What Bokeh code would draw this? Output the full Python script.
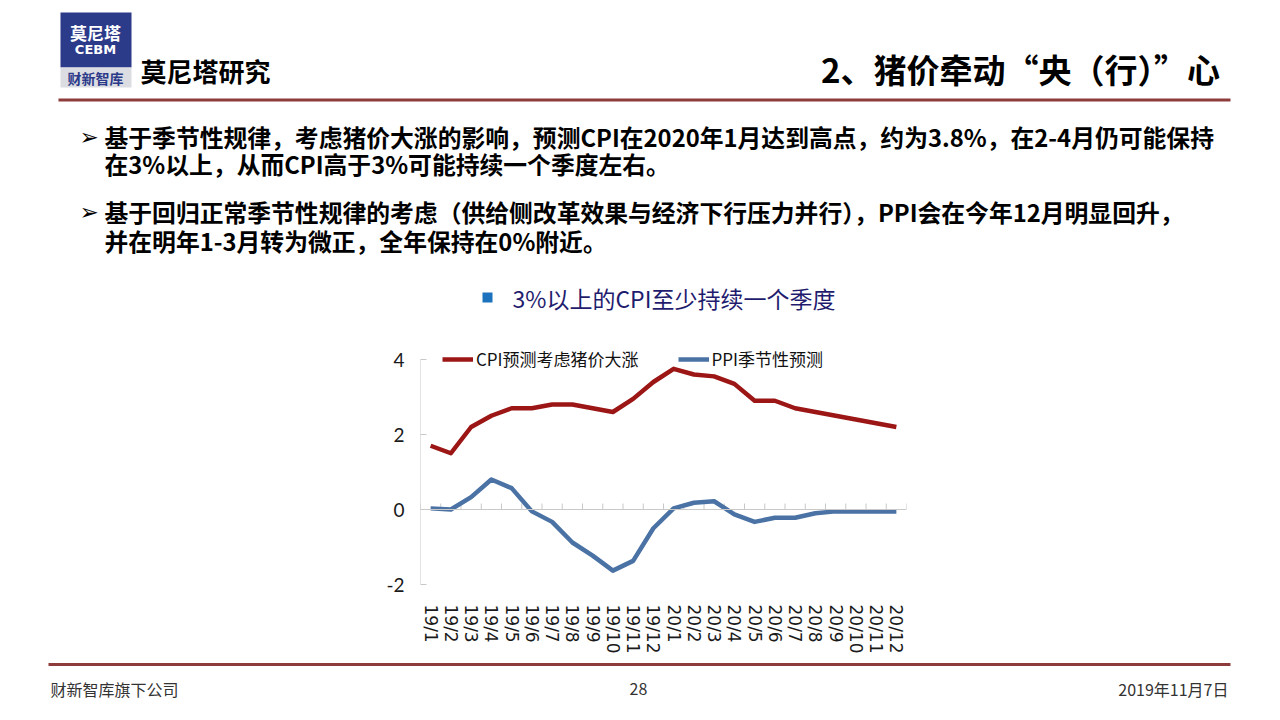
from bokeh.plotting import figure
from bokeh.models import Range1d, FixedTicker, Span, Legend, LegendItem, Spacer
from bokeh.layouts import column, row
from bokeh.core.properties import value
from bokeh.embed import file_html
from bokeh.resources import INLINE

# ---------------- data ----------------
months = ["19/1", "19/2", "19/3", "19/4", "19/5", "19/6", "19/7", "19/8", "19/9", "19/10", "19/11", "19/12",
          "20/1", "20/2", "20/3", "20/4", "20/5", "20/6", "20/7", "20/8", "20/9", "20/10", "20/11", "20/12"]
cpi = [1.7, 1.5, 2.2, 2.5, 2.7, 2.7, 2.8, 2.8, 2.7, 2.6, 2.95, 3.4,
       3.75, 3.6, 3.55, 3.35, 2.9, 2.9, 2.7, 2.6, 2.5, 2.4, 2.3, 2.2]
ppi = [0.03, 0.0, 0.33, 0.8, 0.57, -0.05, -0.33, -0.88, -1.23, -1.63, -1.37, -0.5,
       0.03, 0.18, 0.22, -0.13, -0.33, -0.22, -0.22, -0.1, -0.05, -0.05, -0.05, -0.05]
series_names = ["CPI预测考虑猪价大涨", "PPI季节性预测"]
y_ticks = [-2, 0, 2, 4]
y_labels = ["-2", "0", "2", "4"]

chart_title = "3%以上的CPI至少持续一个季度"
page_title = "2、猪价牵动“央（行）”心"
brand = "莫尼塔研究"
bullet_lines = [
    "基于季节性规律，考虑猪价大涨的影响，预测CPI在2020年1月达到高点，约为3.8%，在2-4月仍可能保持",
    "在3%以上，从而CPI高于3%可能持续一个季度左右。",
    "基于回归正常季节性规律的考虑（供给侧改革效果与经济下行压力并行），PPI会在今年12月明显回升，",
    "并在明年1-3月转为微正，全年保持在0%附近。",
]
footer_left = "财新智库旗下公司"
page_no = "28"
footer_date = "2019年11月7日"

CJK = "Noto Sans CJK SC"
RULE = "#8e3b3b"
W = 1264
HEAD_H = 322
MID_H = 326
FOOT_H = 704 - HEAD_H - MID_H


def blank(w, h):
    f = figure(width=w, height=h, x_range=Range1d(0, w), y_range=Range1d(h, 0),
               output_backend="svg", toolbar_location=None, min_border=0)
    f.axis.visible = False
    f.grid.visible = False
    f.outline_line_color = None
    f.background_fill_color = "white"
    f.border_fill_color = "white"
    return f


# ---------------- header ----------------
head = blank(W, HEAD_H)
# logo
head.quad(left=[52], right=[123], top=[4], bottom=[59], fill_color="#2c3a8a", line_color=None)
head.quad(left=[52], right=[123], top=[59], bottom=[79], fill_color="#dcdde2", line_color=None)
head.text(x=[87], y=[24], text=["莫尼塔"], text_font=value(CJK), text_font_style="bold",
          text_font_size="17px", text_color="white", text_align="center", text_baseline="middle")
head.text(x=[87], y=[41], text=["CEBM"], text_font=value("DejaVu Sans"), text_font_style="bold",
          text_font_size="13px", text_color="white", text_align="center", text_baseline="middle")
head.text(x=[87], y=[69], text=["财新智库"], text_font=value(CJK), text_font_style="bold",
          text_font_size="14px", text_color="#2c3a8a", text_align="center", text_baseline="middle")
head.text(x=[132], y=[62], text=[brand], text_font=value(CJK), text_font_style="bold",
          text_font_size="26px", text_color="black", text_align="left", text_baseline="middle")
head.text(x=[1228], y=[60], text=[page_title], text_font=value(CJK), text_font_style="bold",
          text_font_size="33px", text_color="black", text_align="right", text_baseline="middle")
head.segment(x0=[50], x1=[1222], y0=[91.5], y1=[91.5], line_color=RULE, line_width=3)
# bullets
bullet_y = [128, 155, 203, 232]
head.text(x=[71, 71], y=[bullet_y[0], bullet_y[2]], text=["➢", "➢"], text_font=value("DejaVu Sans"),
          text_font_style="bold", text_font_size="23px", text_color="black",
          text_align="left", text_baseline="middle")
head.text(x=[96] * 4, y=bullet_y, text=bullet_lines, text_font=value(CJK), text_font_style="bold",
          text_font_size="23.8px", text_color="black", text_align="left", text_baseline="middle")
# chart title
head.rect(x=[479], y=[289], width=[10], height=[10], fill_color="#1d72bd", line_color=None)
head.text(x=[504], y=[289], text=[chart_title], text_font=value(CJK),
          text_font_size="23px", text_color="#1f1c6e", text_align="left", text_baseline="middle")

# ---------------- chart ----------------
xs = list(range(len(months)))
p = figure(width=550, height=MID_H, x_range=Range1d(-0.5, len(months) - 0.5), y_range=Range1d(-2, 4.4),
           output_backend="svg", toolbar_location=None,
           min_border_left=50, min_border_right=14, min_border_top=14, min_border_bottom=72)
p.outline_line_color = None
p.grid.visible = False
p.background_fill_color = "white"
p.border_fill_color = "white"

p.yaxis.ticker = FixedTicker(ticks=y_ticks)
p.yaxis.major_label_overrides = dict(zip(y_ticks, y_labels))
p.yaxis.axis_line_color = None
p.yaxis.major_tick_line_color = "#c8c8c8"
p.yaxis.major_tick_in = 6
p.yaxis.major_tick_out = 0
p.yaxis.minor_tick_line_color = None
p.yaxis.major_label_text_font = "Lato"
p.yaxis.major_label_text_font_size = "19px"
p.yaxis.major_label_text_color = "#1a1a1a"
p.yaxis.major_label_standoff = 16

p.xaxis.ticker = FixedTicker(ticks=xs)
p.xaxis.major_label_overrides = {i: m for i, m in enumerate(months)}
p.xaxis.axis_line_color = None
p.xaxis.major_tick_line_color = None
p.xaxis.minor_tick_line_color = None
p.xaxis.major_label_orientation = "vertical"
p.xaxis.major_label_text_font = "DejaVu Sans"
p.xaxis.major_label_text_font_size = "17px"
p.xaxis.major_label_text_color = "#1a1a1a"
p.xaxis.major_label_standoff = 14

# value axis line from -2 to 4
p.segment(x0=[-0.5], x1=[-0.5], y0=[y_ticks[0]], y1=[y_ticks[-1]], line_color="#c8c8c8", line_width=1)
# category axis at zero with tick marks between categories
p.add_layout(Span(location=0, dimension="width", line_color="#c8c8c8", line_width=1))
bounds = [i - 0.5 for i in range(len(months) + 1)]
p.segment(x0=bounds, x1=bounds, y0=[0] * len(bounds), y1=[0.16] * len(bounds),
          line_color="#c8c8c8", line_width=1)

r1 = p.line(xs, cpi, line_color="#9c1616", line_width=4.5, line_join="round")
r2 = p.line(xs, ppi, line_color="#4a72a4", line_width=4.5, line_join="round")

legend = Legend(items=[LegendItem(label=series_names[0], renderers=[r1]),
                       LegendItem(label=series_names[1], renderers=[r2])],
                location=(22, 213), orientation="horizontal",
                label_text_font=CJK, label_text_font_size="17px", label_text_color="#111111",
                glyph_width=31, glyph_height=18, label_height=18, label_standoff=3, spacing=39,
                padding=0, margin=0, border_line_color=None, background_fill_alpha=0)
p.add_layout(legend)

mid = row(Spacer(width=362, height=MID_H), p, Spacer(width=W - 362 - 550, height=MID_H))

# ---------------- footer ----------------
foot = blank(W, FOOT_H)
foot.segment(x0=[40], x1=[1222], y0=[8], y1=[8], line_color=RULE, line_width=3)
foot.text(x=[42], y=[32], text=[footer_left], text_font=value(CJK), text_font_size="16px",
          text_color="#333333", text_align="left", text_baseline="middle")
foot.text(x=[630], y=[32], text=[page_no], text_font=value(CJK), text_font_size="16px",
          text_color="#333333", text_align="center", text_baseline="middle")
foot.text(x=[1220], y=[32], text=[footer_date], text_font=value(CJK), text_font_size="16px",
          text_color="#333333", text_align="right", text_baseline="middle")

inner = column(head, mid, foot)
page = column(Spacer(width=W + 8, height=8), row(Spacer(width=8, height=704), inner))
open("out.html", "w").write(file_html(page, INLINE))
